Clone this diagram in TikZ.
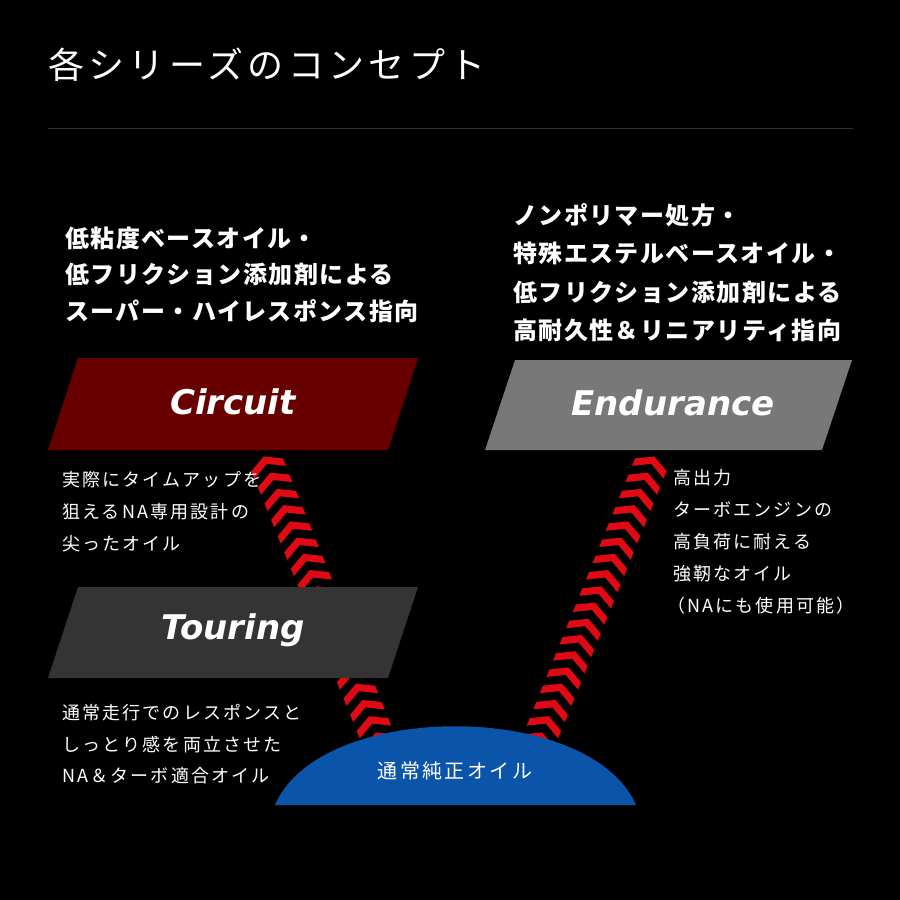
\documentclass[tikz,border=0pt]{standalone}
\usepackage{fontspec}
\usetikzlibrary{calc}
\newfontfamily\jp{Noto Sans CJK JP}
\newfontfamily\jpt{Noto Sans CJK JP}[LetterSpace=12]
\newfontfamily\jph{Noto Sans CJK JP}[LetterSpace=6]
\newfontfamily\jps{Noto Sans CJK JP}[LetterSpace=12]
\newfontfamily\en{DejaVu Sans}
\begin{document}
\begin{tikzpicture}[x=1pt,y=-1pt,
  head/.style={anchor=west,text=white,font=\jph\bfseries\fontsize{24}{24}\selectfont,inner sep=0},
  small/.style={anchor=west,text=white,font=\jps\fontsize{18}{18}\selectfont,inner sep=0},
  label/.style={text=white,font=\en\bfseries\itshape\fontsize{34}{34}\selectfont},
  chev/.style={fill={rgb,255:red,225;green,10;blue,20}}]
\useasboundingbox (0,0) rectangle (900,900);
\fill[black] (0,0) rectangle (900,900);
\node[anchor=west,text=white,inner sep=0,font=\jpt\fontsize{36}{36}\selectfont] (title) at (48,65) {各シリーズのコンセプト};
\draw[color={rgb,255:red,50;green,50;blue,50}] (48,128) -- (853,128);
% headings
\node[head] (l1) at (65,238) {低粘度ベースオイル・};
\node[head] (l2) at (65,274) {低フリクション添加剤による};
\node[head] (l3) at (65,311) {スーパー・ハイレスポンス指向};
\node[head] (r1) at (513,215) {ノンポリマー処方・};
\node[head] (r2) at (513,253) {特殊エステルベースオイル・};
\node[head] (r3) at (513,292) {低フリクション添加剤による};
\node[head] (r4) at (513,330) {高耐久性＆リニアリティ指向};
% chevrons
\coordinate (LA) at (378,738); \coordinate (LB) at (266,462);
\coordinate (RA) at (540,738); \coordinate (RB) at (652,462);
\foreach \t in {0,...,17}{
  \path ($(LA)!\t/17!(LB)$) coordinate (p);
  \begin{scope}[shift={(p)},rotate=112]
    \fill[chev] (6,0) -- (-3,17) -- (-11,17) -- (-2,0) -- (-11,-17) -- (-3,-17) -- cycle;
  \end{scope}
  \path ($(RA)!\t/17!(RB)$) coordinate (q);
  \begin{scope}[shift={(q)},rotate=68]
    \fill[chev] (6,0) -- (-3,17) -- (-11,17) -- (-2,0) -- (-11,-17) -- (-3,-17) -- cycle;
  \end{scope}
}
% boxes
\fill[color={rgb,255:red,105;green,0;blue,0}] (78,358) -- (418,358) -- (388,450) -- (48,450) -- cycle;
\node[label] (circuit) at (233,402) {Circuit};
\fill[color={rgb,255:red,120;green,120;blue,120}] (515,360) -- (852,360) -- (822,450) -- (485,450) -- cycle;
\node[label] (endurance) at (673,403) {Endurance};
\fill[color={rgb,255:red,52;green,52;blue,52}] (78,587) -- (418,587) -- (388,678) -- (48,678) -- cycle;
\node[label] (touring) at (233,630) {Touring};
% small texts
\node[small] (a1) at (62,480) {実際にタイムアップを};
\node[small] (a2) at (62,512) {狙えるNA専用設計の};
\node[small] (a3) at (62,544) {尖ったオイル};
\node[small] (b1) at (673,478) {高出力};
\node[small] (b2) at (673,510) {ターボエンジンの};
\node[small] (b3) at (673,542) {高負荷に耐える};
\node[small] (b4) at (673,574) {強靭なオイル};
\node[small] (b5) at (667,606) {（NAにも使用可能）};
\node[small] (c1) at (62,713) {通常走行でのレスポンスと};
\node[small] (c2) at (62,745) {しっとり感を両立させた};
\node[small] (c3) at (62,776) {NA＆ターボ適合オイル};
% dome
\fill[color={rgb,255:red,10;green,85;blue,170}] (275,805) .. controls (320,700) and (590,700) .. (636,805) -- cycle;
\node[text=white,font=\jps\fontsize{20}{20}\selectfont] (base) at (455,771) {通常純正オイル};
\end{tikzpicture}
\end{document}
